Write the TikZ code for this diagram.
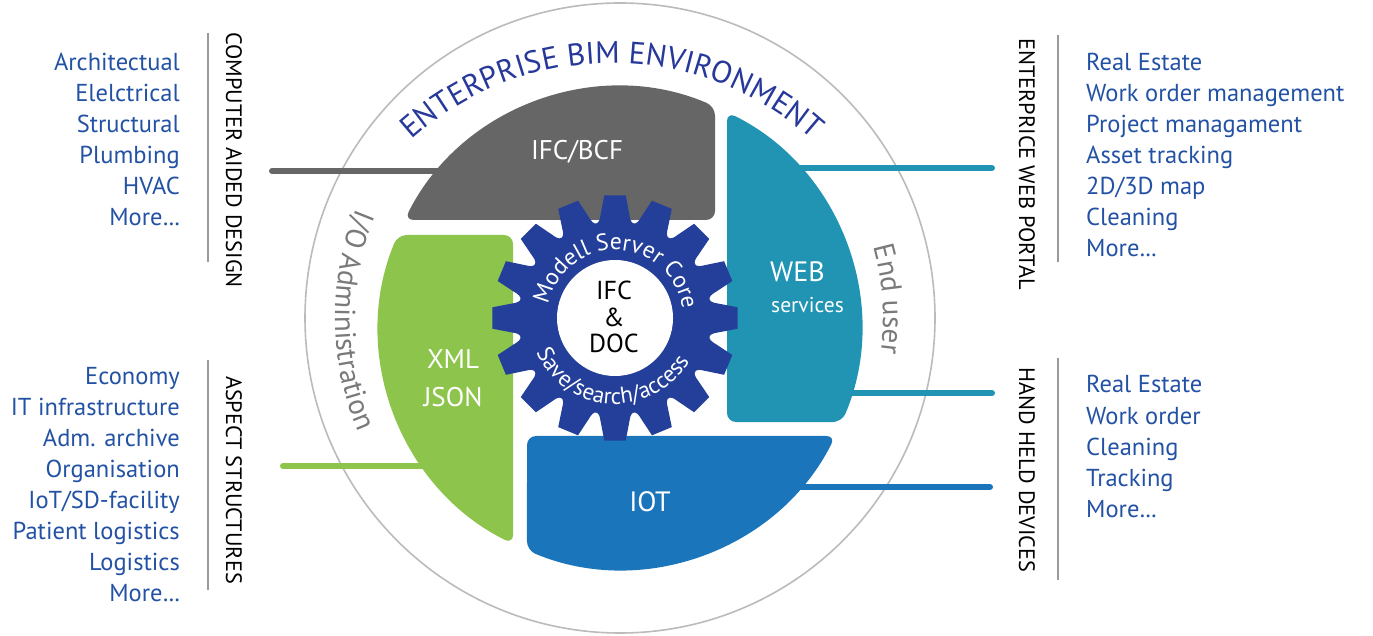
\documentclass[tikz,border=0pt]{standalone}
\usepackage{fontspec}
\setmainfont{PT Sans}
\usetikzlibrary{decorations.text}
\definecolor{cgray}{HTML}{666666}
\definecolor{cgreen}{HTML}{8DC44B}
\definecolor{cteal}{HTML}{2194B4}
\definecolor{cblue}{HTML}{1B75BB}
\definecolor{cgear}{HTML}{233F99}
\definecolor{ctext}{HTML}{2352A4}
\definecolor{ctitle}{HTML}{26389A}
\definecolor{cring}{HTML}{BBBBBB}
\definecolor{clabel}{HTML}{7A7A7A}
\definecolor{csep}{HTML}{9A9A9A}
\tikzset{
  conn/.style={line width=6, line cap=round},
  sepline/.style={draw=csep, line width=1.8},
  shapebox/.style={rounded corners=9},
  listtxt/.style={text=ctext, font=\fontsize{24.5}{24.5}\selectfont, inner sep=0},
  sidelabel/.style={rotate=-90, font=\fontsize{22.3}{22.3}\selectfont, inner sep=0, text=black},
  inlabel/.style={text=white, inner sep=0, align=center},
}
\newcommand{\mre}{More\kern0.5pt.\kern0.5pt.\kern0.5pt.}
\begin{document}
\begin{tikzpicture}[x=1pt,y=1pt]
\useasboundingbox (0,0) rectangle (1373,635);
\fill[white] (0,0) rectangle (1373,635);
% outer ring
\draw[cring, line width=1.6] (620,317) circle[radius=315];

% connector end points
\coordinate (cadL) at (272,464); \coordinate (cadR) at (450,464);
\coordinate (aspL) at (283,169); \coordinate (aspR) at (450,169);
\coordinate (webA) at (992,467); \coordinate (webB) at (780,467);
\coordinate (webC) at (992,242); \coordinate (webD) at (830,242);
\coordinate (hhA) at (990,148); \coordinate (hhB) at (780,148);
\draw[conn, cgray] (cadL) -- (cadR);
\draw[conn, cgreen] (aspL) -- (aspR);
\draw[conn, cteal] (webA) -- (webB);
\draw[conn, cteal] (webC) -- (webD);
\draw[conn, cblue] (hhA) -- (hhB);

% four segments
\fill[cgray, shapebox] (715,415) -- (715,528.5) arc[start angle=66.78,end angle=153.37,radius=241] -- cycle;
\fill[cgreen, shapebox] (513,400) -- (397.7,400) arc[start angle=157.30,end angle=243.64,radius=241] -- cycle;
\fill[cteal, shapebox] (727,213) -- (727,522.9) arc[start angle=63.64,end angle=-22.96,radius=241] -- cycle;
\fill[cblue, shapebox] (527,199) -- (835.4,199) arc[start angle=-26.63,end angle=-112.70,radius=241] -- cycle;

\node[inlabel, font=\fontsize{27}{27}\selectfont] (ifcbcf) at (577,483) {IFC/BCF};
\node[inlabel, font=\fontsize{27}{38}\selectfont] (xml) at (453,257) {XML\\JSON};
\node[inlabel, anchor=west, font=\fontsize{28}{28}\selectfont] (web) at (770,363) {WEB};
\node[inlabel, anchor=west, font=\fontsize{21.5}{21.5}\selectfont] (services) at (771,330) {services};
\node[inlabel, font=\fontsize{28}{28}\selectfont] (iot) at (650,133) {IOT};

% gear
\fill[cgear, shift={(615,317)}] (82:104)
  \foreach \i in {0,...,15}{
    -- ({90+22.5*\i-5}:123) -- ({90+22.5*\i+5}:123) -- ({90+22.5*\i+8}:104)
    .. controls ({90+22.5*\i+9.5}:94) and ({90+22.5*\i+13}:94) .. ({90+22.5*\i+14.5}:104)
  } -- cycle;
\node[circle, fill=white, minimum size=116, inner sep=0] (core) at (615,317) {};
\node[inner sep=0, align=center, font=\fontsize{26}{26.5}\selectfont] (coretxt) at (614,318) {IFC\\\&\\DOC};
\path[decorate, decoration={text along path, text align=center, text color=white,
  text={|\fontsize{23.5}{23.5}\selectfont|Modell Server Core}}]
  (615,317) ++(176:68) arc[start angle=176,end angle=0,radius=68];
\path[decorate, decoration={text along path, text align=center, text color=white,
  text={|\fontsize{23}{23}\selectfont|Save/search/access}}]
  (615,317) ++(182:86) arc[start angle=182,end angle=352,radius=86];

% arc labels
\path[decorate, decoration={text along path, text align=center, text color=ctitle,
  text={|\fontsize{31}{31}\selectfont|ENTERPRISE BIM ENVIRONMENT}}]
  (612,272) ++(137:300) arc[start angle=137,end angle=43,radius=300];
\path[decorate, decoration={text along path, text align=center, text color=clabel,
  text={|\fontsize{29}{29}\selectfont|I/O Administration}}]
  (620,317) ++(148:285) arc[start angle=148,end angle=213,radius=285];
\path[decorate, decoration={text along path, text align=center, text color=clabel,
  text={|\fontsize{29}{29}\selectfont|End user}}]
  (620,317) ++(22:263) arc[start angle=22,end angle=-14,radius=263];

% separators
\coordinate (s1a) at (208,602); \coordinate (s1b) at (208,373);
\coordinate (s2a) at (208,275); \coordinate (s2b) at (208,45);
\coordinate (s3a) at (1058,600); \coordinate (s3b) at (1058,373);
\coordinate (s4a) at (1058,277); \coordinate (s4b) at (1058,55);
\draw[sepline] (s1a) -- (s1b);
\draw[sepline] (s2a) -- (s2b);
\draw[sepline] (s3a) -- (s3b);
\draw[sepline] (s4a) -- (s4b);

\node[sidelabel] (cad) at (234,475) {COMPUTER AIDED DESIGN};
\node[sidelabel] (asp) at (234,155) {ASPECT STRUCTURES};
\node[sidelabel] (ewp) at (1027,471) {ENTERPRICE WEB PORTAL};
\node[sidelabel] (hhd) at (1027,165) {HAND HELD DEVICES};

% lists
\foreach [count=\i from 0] \t in {Architectual,Elelctrical,Structural,Plumbing,HVAC,\mre}
  \node[listtxt, anchor=base east] (la\i) at (180,{564-31*\i}) {\t};
\foreach [count=\i from 0] \t in {Economy,IT infrastructure,Adm. archive,Organisation,IoT/SD-facility,Patient logistics,Logistics,\mre}
  \node[listtxt, anchor=base east] (lb\i) at (180,{250-30.86*\i}) {\t};
\foreach [count=\i from 0] \t in {Real Estate,Work order management,Project managament,Asset tracking,2D/3D map,Cleaning,\mre}
  \node[listtxt, anchor=base west] (ra\i) at (1086,{564-31*\i}) {\t};
\foreach [count=\i from 0] \t in {Real Estate,Work order,Cleaning,Tracking,\mre}
  \node[listtxt, anchor=base west] (rb\i) at (1086,{242-31*\i}) {\t};
\end{tikzpicture}
\end{document}
